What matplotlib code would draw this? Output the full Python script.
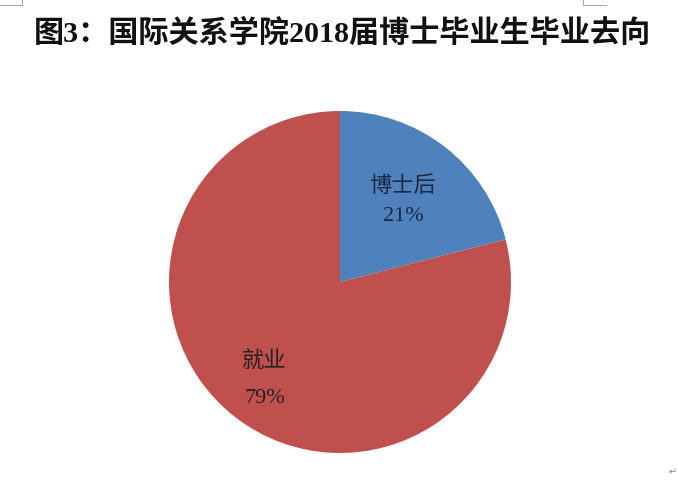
import matplotlib
matplotlib.use("Agg")
import numpy as np
import matplotlib.pyplot as plt
from matplotlib.lines import Line2D

# data
labels = ["博士后", "就业"]
shares = [21, 79]
colors = ["#4F81BD", "#C0504D"]
title = "图3：国际关系学院2018届博士毕业生毕业去向"

W, H = 678, 486
fig = plt.figure(figsize=(W / 100, H / 100), dpi=100)
fig.patch.set_facecolor("white")

# title
fig.text(342 / W, 1 - 33 / H, title, ha="center", va="center",
         fontsize=21.7, fontweight="bold",
         family=["Liberation Serif", "Noto Sans CJK SC"], color="#111111")

# pie placed in pixel box: centre (340,282), radius 171
ax = fig.add_axes([169 / W, 33 / H, 342 / W, 342 / H])
wedges, _ = ax.pie(shares, colors=colors, startangle=90, counterclock=False,
                   wedgeprops=dict(linewidth=0))
ax.set_xlim(-1, 1)
ax.set_ylim(-1, 1)
ax.set_aspect("equal")
ax.axis("off")

# labels inside the slices
dists = [0.6, 0.72]
spacing = [1.75, 2.2]
tcolors = ["#1a2a44", "#222222"]
for w, lab, s, d, ls, c in zip(wedges, labels, shares, dists, spacing, tcolors):
    mid = np.deg2rad((w.theta1 + w.theta2) / 2)
    ax.text(d * np.cos(mid), d * np.sin(mid), f"{lab}\n{s}%",
            ha="center", va="center", fontsize=16, linespacing=ls,
            family=["Liberation Serif", "Noto Sans CJK SC"], color=c)

# page crop marks
mark = dict(color="#aaaaaa", linewidth=0.8, transform=fig.transFigure)
fig.add_artist(Line2D([0, 22 / W], [1 - 5 / H, 1 - 5 / H], **mark))
fig.add_artist(Line2D([22 / W, 22 / W], [1 - 5 / H, 1], **mark))
fig.add_artist(Line2D([583 / W, 606 / W], [1 - 5 / H, 1 - 5 / H], **mark))
fig.add_artist(Line2D([583 / W, 583 / W], [1 - 5 / H, 1], **mark))
fig.text(673 / W, 1 - 472 / H, "↵", ha="center", va="center", fontsize=7,
         color="#888888")

fig.savefig("out.png", dpi=100)
